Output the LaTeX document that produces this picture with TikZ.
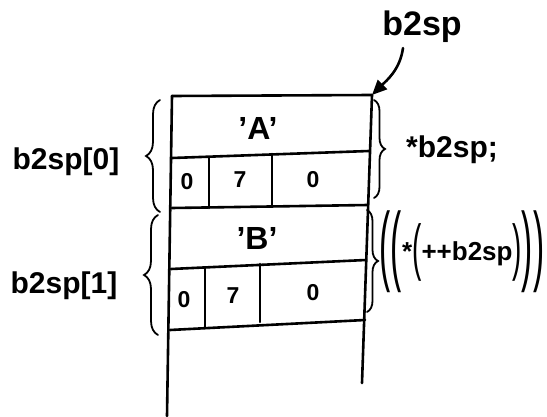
\documentclass[tikz,border=0pt]{standalone}
\usepackage{fontspec}
\usepackage{graphicx}
\setmainfont{Liberation Sans}
\usetikzlibrary{decorations.pathreplacing,arrows.meta}
\newcommand{\fsz}[1]{\fontsize{#1}{#1}\selectfont\bfseries}
\newcommand{\bigpar}[1]{\raisebox{-14pt}{\scalebox{0.38}[1]{\fontsize{88}{88}\selectfont\mdseries#1}}}
\newcommand{\midpar}[1]{\raisebox{-8pt}{\scalebox{0.45}[1]{\fontsize{62}{62}\selectfont\mdseries#1}}}
\begin{document}
\begin{tikzpicture}[x=1pt,y=-1pt,
  ink/.style={line width=2.6pt, line cap=round, line join=round},
  lbl/.style={inner sep=0pt, font=\fsz{30}},
  cellnum/.style={inner sep=0pt, font=\fsz{23}},
  bracestyle/.style={line width=1.8pt, line cap=round, decorate,
    decoration={brace, amplitude=#1}}]
\useasboundingbox (0,0) rectangle (547,417);

% frame of the array
\coordinate (tl) at (172,96);
\coordinate (tr) at (372,95);
\coordinate (bl) at (167,416);
\coordinate (br) at (362,383);
\draw[ink] (tl) -- (tr);
\draw[ink] (tl) -- (bl);
\draw[ink] (tr) -- (br);

% element 0
\draw[ink] (172,158) -- (369,151);
\draw[ink] (172,208) -- (368,205);
\draw[ink] (209,158) -- (209,208);
\draw[ink] (272,154) -- (272,206);
\node[lbl, font=\fsz{32}] (charA) at (258,128) {'A'};
\node[cellnum] (a0) at (187,182) {0};
\node[cellnum] (a1) at (240,180) {7};
\node[cellnum] (a2) at (313,180) {0};

% element 1
\draw[ink] (171,269) -- (366,260);
\draw[ink] (170,330) -- (365,320);
\draw[ink] (205,268) -- (205,328);
\draw[ink] (260,264) -- (260,322);
\node[lbl, font=\fsz{32}] (charB) at (257,238) {'B'};
\node[cellnum] (b0) at (184,300) {0};
\node[cellnum] (b1) at (233,296) {7};
\node[cellnum] (b2) at (313,293) {0};

% pointer name and arrow
\node[lbl, font=\fsz{34}] (ptr) at (422,27) {b2sp};
\draw[ink, -{Triangle[length=15pt,width=13pt]}]
  ([xshift=-19pt,yshift=-5pt]ptr.south) .. controls +(-3,22) and +(14,-14) .. (tr);

% left braces and element names
\draw[bracestyle=14pt] (160,212) -- (160,100);
\draw[bracestyle=14pt] (158,335) -- (158,215);
\node[lbl] (el0) at (66,162) {b2sp[0]};
\node[lbl] (el1) at (64,286) {b2sp[1]};

% right braces and expressions
\draw[bracestyle=11pt] (374,100) -- (374,198);
\draw[bracestyle=11pt] (367,210) -- (367,312);
\node[lbl, font=\fsz{30}] (ex0) at (452,150) {*b2sp;};
\node[inner sep=0pt, font=\fsz{26}] (ex1) at (462,252)
  {\bigpar{(}\bigpar{(}*\midpar{(}++b2sp\midpar{)}\bigpar{)}\bigpar{)}};
\end{tikzpicture}
\end{document}
